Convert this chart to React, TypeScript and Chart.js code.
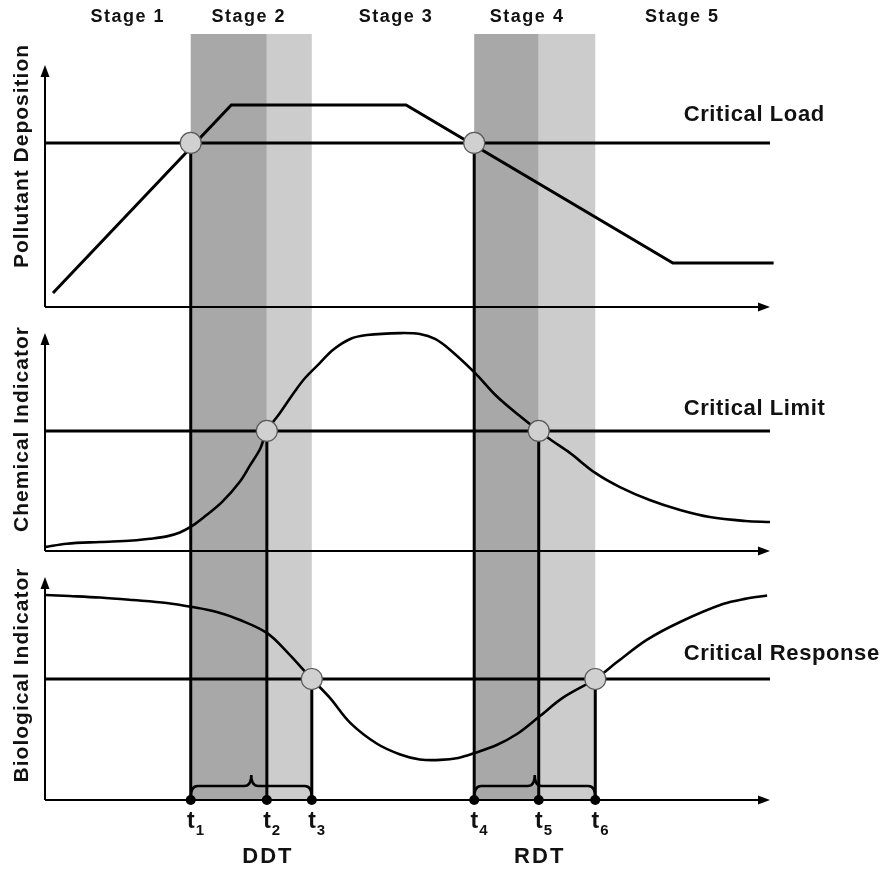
import React, { useEffect, useRef } from "react";
import { Chart, registerables } from "chart.js";

Chart.register(...registerables);

// ---- data (time axis 0..100, each panel's value axis 0..100) ----
const stageLabels = ["Stage 1", "Stage 2", "Stage 3", "Stage 4", "Stage 5"];
const stageCenters = [11.4, 28.1, 48.4, 66.5, 87.9];

const timeMarks = [20.1, 30.6, 36.8, 59.2, 68.1, 75.9]; // t1..t6
const timeSubscripts = ["1", "2", "3", "4", "5", "6"];

const pollutantT = [1.1, 25.7, 49.8, 86.6, 100.5];
const pollutantV = [5.1, 74.0, 74.0, 16.1, 16.1];
const criticalLoad = 60.1;

const chemT = [0, 3.0, 7.6, 12.1, 14.5, 16.8, 18.6, 20.3, 22.1, 24.4, 26.9, 28.3, 29.7, 30.6, 32.4, 34.5, 35.9, 37.9, 39.7, 42.1, 44.4, 49.0, 51.7, 53.8, 55.9, 59.3, 62.3, 65.5, 68.1, 69.9, 72.4, 75.9, 79.3, 83.4, 87.6, 91.7, 96.6, 100];
const chemV = [1.6, 3.0, 3.7, 4.3, 5.0, 6.0, 7.6, 10.3, 14.3, 20.0, 28.5, 35.2, 42.0, 49.2, 56.6, 65.6, 71.0, 77.0, 82.4, 86.9, 88.5, 89.3, 88.9, 86.9, 82.4, 73.0, 63.4, 55.3, 49.2, 45.3, 40.2, 32.0, 26.2, 20.9, 16.8, 13.9, 12.3, 11.9];
const criticalLimit = 49.2;

const bioT = [0, 3.4, 7.6, 12.1, 16.8, 20.3, 23.7, 26.9, 30.6, 33.4, 36.8, 39.3, 42.1, 45.8, 49.0, 51.7, 54.5, 57.0, 59.3, 62.3, 65.1, 68.1, 71.4, 75.9, 78.9, 83.0, 87.6, 93.5, 96.8, 99.6];
const bioV = [82.3, 81.9, 81.3, 80.3, 79.1, 77.5, 75.5, 72.3, 67.1, 59.4, 48.6, 41.0, 31.0, 22.6, 18.3, 16.3, 16.1, 16.9, 18.9, 22.1, 26.5, 33.3, 41.0, 48.6, 55.4, 64.3, 71.5, 78.7, 80.9, 82.1];
const criticalResponse = 48.6;

const panelIds = ["yPoll", "yChem", "yBio"];
const panelTitles = ["Pollutant Deposition", "Chemical Indicator", "Biological Indicator"];
const panelTitleCenters = [55.3, 50, 50.2];
const panelArrowTops = [88.6, 89.3, 89.6];
const panelWeights = [273, 244, 249];
const criticalNames = ["Critical Load", "Critical Limit", "Critical Response"];
const criticalLabelValues = [70.3, 58.2, 58.6];
const criticalLabelStart = 88.1;
const periodNames = ["DDT", "RDT"];

export default function App() {
  const ref = useRef<HTMLCanvasElement | null>(null);

  useEffect(() => {
    if (!ref.current) return;
    const criticals = [criticalLoad, criticalLimit, criticalResponse];
    const zip = (t: number[], v: number[]) => t.map((x, i) => ({ x, y: v[i] }));
    const flat = (v: number) => [{ x: 0, y: v }, { x: 100, y: v }];
    // which panel each crossing mark belongs to: t1,t4 -> load; t2,t5 -> limit; t3,t6 -> response
    const markPanel = (i: number) => i % 3;

    const FONT = '"Liberation Sans", Arial, sans-serif';

    const overlay = {
      id: "overlay",
      beforeDatasetsDraw(chart: any) {
        const { ctx, chartArea, scales } = chart;
        const xs = scales.x;
        const yB = scales.yBio;
        const bottom = yB.getPixelForValue(0);
        ctx.save();
        // shaded bands
        const bands = [
          [timeMarks[0], timeMarks[1], "#a8a8a8"],
          [timeMarks[1], timeMarks[2], "#cccccc"],
          [timeMarks[3], timeMarks[4], "#a8a8a8"],
          [timeMarks[4], timeMarks[5], "#cccccc"],
        ] as [number, number, string][];
        bands.forEach(([a, b, c]) => {
          const x1 = xs.getPixelForValue(a);
          const x2 = xs.getPixelForValue(b);
          ctx.fillStyle = c;
          ctx.fillRect(x1, chartArea.top, x2 - x1, bottom - chartArea.top);
        });
        // axes with arrows
        ctx.strokeStyle = "#000";
        ctx.fillStyle = "#000";
        ctx.lineWidth = 2;
        panelIds.forEach((id, p) => {
          const ys = scales[id];
          const x0 = xs.getPixelForValue(0);
          const x1 = xs.getPixelForValue(100);
          const y0 = ys.getPixelForValue(0);
          const yt = ys.getPixelForValue(panelArrowTops[p]);
          ctx.beginPath();
          ctx.moveTo(x0, y0);
          ctx.lineTo(x0, yt + 8);
          ctx.moveTo(x0, y0);
          ctx.lineTo(x1 - 8, y0);
          ctx.stroke();
          ctx.beginPath();
          ctx.moveTo(x0, yt);
          ctx.lineTo(x0 - 4.5, yt + 12);
          ctx.lineTo(x0 + 4.5, yt + 12);
          ctx.closePath();
          ctx.fill();
          ctx.beginPath();
          ctx.moveTo(x1, y0);
          ctx.lineTo(x1 - 12, y0 - 4.5);
          ctx.lineTo(x1 - 12, y0 + 4.5);
          ctx.closePath();
          ctx.fill();
        });
        // drop lines from crossings to the time axis
        ctx.lineWidth = 3;
        timeMarks.forEach((t, i) => {
          const p = markPanel(i);
          const px = xs.getPixelForValue(t);
          const py = scales[panelIds[p]].getPixelForValue(criticals[p]);
          ctx.beginPath();
          ctx.moveTo(px, py);
          ctx.lineTo(px, bottom);
          ctx.stroke();
        });
        // braces
        ctx.lineWidth = 2.5;
        [[0, 2], [3, 5]].forEach(([a, b]) => {
          const xa = xs.getPixelForValue(timeMarks[a]);
          const xb = xs.getPixelForValue(timeMarks[b]);
          const mid = (xa + xb) / 2;
          const yh = bottom - 14;
          const yp = bottom - 25;
          const r = 7;
          ctx.beginPath();
          ctx.moveTo(xa, bottom - 2);
          ctx.quadraticCurveTo(xa, yh, xa + r, yh);
          ctx.lineTo(mid - r, yh);
          ctx.quadraticCurveTo(mid, yh, mid, yp);
          ctx.quadraticCurveTo(mid, yh, mid + r, yh);
          ctx.lineTo(xb - r, yh);
          ctx.quadraticCurveTo(xb, yh, xb, bottom - 2);
          ctx.stroke();
        });
        ctx.restore();
      },
      afterDatasetsDraw(chart: any) {
        const { ctx, chartArea, scales } = chart;
        const xs = scales.x;
        const bottom = scales.yBio.getPixelForValue(0);
        ctx.save();
        ctx.fillStyle = "#111";
        // stage labels
        ctx.font = `bold 18px ${FONT}`;
        (ctx as any).letterSpacing = "1.5px";
        ctx.textAlign = "center";
        ctx.textBaseline = "middle";
        stageLabels.forEach((s, i) => {
          ctx.fillText(s, xs.getPixelForValue(stageCenters[i]), chartArea.top - 17);
        });
        // critical labels
        ctx.font = `bold 22px ${FONT}`;
        (ctx as any).letterSpacing = "0.6px";
        ctx.textAlign = "left";
        criticalNames.forEach((s, p) => {
          ctx.fillText(s, xs.getPixelForValue(criticalLabelStart), scales[panelIds[p]].getPixelForValue(criticalLabelValues[p]));
        });
        // y titles
        ctx.font = `bold 21px ${FONT}`;
        (ctx as any).letterSpacing = "1px";
        ctx.textAlign = "center";
        panelTitles.forEach((s, p) => {
          const cy = scales[panelIds[p]].getPixelForValue(panelTitleCenters[p]);
          ctx.save();
          ctx.translate(22, cy);
          ctx.rotate(-Math.PI / 2);
          ctx.fillText(s, 0, 0);
          ctx.restore();
        });
        // time labels
        (ctx as any).letterSpacing = "0px";
        ctx.textBaseline = "alphabetic";
        timeMarks.forEach((t, i) => {
          const px = xs.getPixelForValue(t);
          ctx.font = `bold 23px ${FONT}`;
          ctx.textAlign = "right";
          ctx.fillText("t", px + 4, bottom + 28);
          ctx.font = `bold 15px ${FONT}`;
          ctx.textAlign = "left";
          ctx.fillText(timeSubscripts[i], px + 5, bottom + 35);
        });
        // DDT / RDT under t2 and t5
        ctx.font = `bold 22px ${FONT}`;
        (ctx as any).letterSpacing = "2px";
        ctx.textAlign = "center";
        [1, 4].forEach((ti, k) => {
          ctx.fillText(periodNames[k], xs.getPixelForValue(timeMarks[ti]) + 1, bottom + 63);
        });
        ctx.restore();
      },
    };

    const lineStyle = { borderColor: "#000", pointRadius: 0, fill: false, order: 2 };
    const chart = new Chart(ref.current, {
      type: "line",
      data: {
        datasets: [
          { ...lineStyle, data: zip(pollutantT, pollutantV), yAxisID: "yPoll", borderWidth: 3, tension: 0, clip: false },
          { ...lineStyle, data: flat(criticalLoad), yAxisID: "yPoll", borderWidth: 3 },
          { ...lineStyle, data: zip(chemT, chemV), yAxisID: "yChem", borderWidth: 2.6, tension: 0.35 },
          { ...lineStyle, data: flat(criticalLimit), yAxisID: "yChem", borderWidth: 3 },
          { ...lineStyle, data: zip(bioT, bioV), yAxisID: "yBio", borderWidth: 2.6, tension: 0.35 },
          { ...lineStyle, data: flat(criticalResponse), yAxisID: "yBio", borderWidth: 3 },
          ...panelIds.map((id, p) => ({
            data: timeMarks.filter((_, i) => markPanel(i) === p).map((t) => ({ x: t, y: criticals[p] })),
            yAxisID: id,
            showLine: false,
            pointRadius: 10.5,
            pointBackgroundColor: "#d0d0d0",
            pointBorderColor: "#5a5a5a",
            pointBorderWidth: 1.2,
            order: 0,
            clip: false,
          })),
          {
            data: timeMarks.map((t) => ({ x: t, y: 0 })),
            yAxisID: "yBio",
            showLine: false,
            pointRadius: 5,
            pointBackgroundColor: "#000",
            pointBorderColor: "#000",
            pointBorderWidth: 0,
            order: 0,
            clip: false,
          },
        ] as any,
      },
      options: {
        animation: false,
        responsive: false,
        events: [],
        layout: { padding: { left: 45, right: 116, top: 34, bottom: 69 } },
        plugins: { legend: { display: false }, tooltip: { enabled: false } },
        scales: {
          x: { type: "linear", min: 0, max: 100, display: false },
          yBio: { type: "linear", min: 0, max: 100, display: false, position: "left", stack: "panels", stackWeight: panelWeights[2], weight: 1 },
          yChem: { type: "linear", min: 0, max: 100, display: false, position: "left", stack: "panels", stackWeight: panelWeights[1], weight: 2 },
          yPoll: { type: "linear", min: 0, max: 100, display: false, position: "left", stack: "panels", stackWeight: panelWeights[0], weight: 3 },
        } as any,
      },
      plugins: [overlay],
    });
    return () => chart.destroy();
  }, []);

  return (
    <div style={{ position: "fixed", left: 0, top: 0, width: 886, height: 869, background: "#fff" }}>
      <canvas ref={ref} width={886} height={869} />
    </div>
  );
}
